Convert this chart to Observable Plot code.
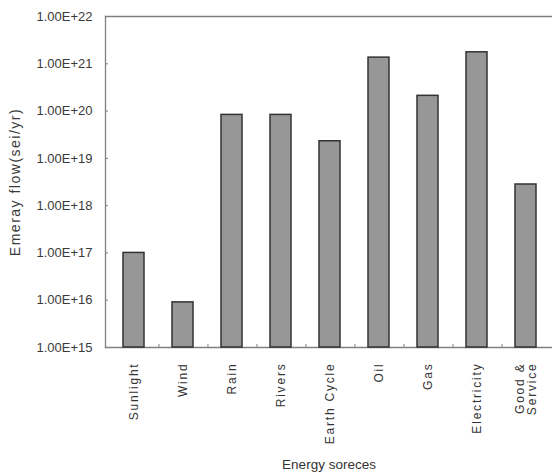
<!DOCTYPE html>
<html>
<head>
<meta charset="utf-8">
<script src="https://cdn.jsdelivr.net/npm/d3@7"></script>
<script src="https://cdn.jsdelivr.net/npm/@observablehq/plot@0.6"></script>
<style>
  html, body { margin: 0; padding: 0; background: #fff; }
  #chart svg { font-family: "Liberation Sans", Arial, sans-serif; }
  #chart g[aria-label="x-axis tick label"] text { letter-spacing: 1.8px; }
  #chart g[aria-label="y-axis label"] text { letter-spacing: 1.5px; font-size: 14px; }
  #chart g[aria-label="x-axis label"] text { font-size: 13.5px; }
</style>
</head>
<body>
<div id="chart"></div>
<script>
const categories = ["Sunlight", "Wind", "Rain", "Rivers", "Earth Cycle", "Oil", "Gas", "Electricity", "Good & Service"];
const tickLabels = ["Sunlight", "Wind", "Rain", "Rivers", "Earth Cycle", "Oil", "Gas", "Electricity", "Good &\nService"];
const values = [1.0e17, 9.0e15, 8.3e19, 8.3e19, 2.3e19, 1.35e21, 2.1e20, 1.75e21, 2.8e18];
const yTicks = [1e15, 1e16, 1e17, 1e18, 1e19, 1e20, 1e21, 1e22];
const yDomain = [1e15, 1e22];

const data = categories.map((c, i) => ({category: c, value: values[i]}));
const labelOf = new Map(categories.map((c, i) => [c, tickLabels[i]]));

const W = 552, H = 473;
const mL = 105, mT = 16, mB = 126, mR = 0;
const xRange = [mL, 554];
const bw = (xRange[1] - xRange[0]) / categories.length;

const chart = Plot.plot({
  width: W,
  height: H,
  marginLeft: mL,
  marginRight: mR,
  marginTop: mT,
  marginBottom: mB,
  style: {fontSize: "12px", color: "#333", background: "#fff", overflow: "visible"},
  x: {domain: categories, range: xRange, paddingInner: 0.58, paddingOuter: 0.29},
  y: {type: "log", domain: yDomain},
  marks: [
    Plot.frame({anchor: "top", stroke: "#808080", strokeWidth: 1.3}),
    Plot.frame({anchor: "bottom", stroke: "#808080", strokeWidth: 1.3}),
    Plot.frame({anchor: "left", stroke: "#808080", strokeWidth: 1.3}),
    Plot.barY(data, {x: "category", y1: () => yDomain[0], y2: "value", fill: "#979797", stroke: "#333", strokeWidth: 1.5}),
    Plot.axisY({ticks: yTicks, tickSize: -3, stroke: "#808080", text: null, label: null}),
    Plot.axisY({ticks: yTicks, tickSize: 0, tickPadding: 13, fontSize: 13, fill: "#3a3a3a",
      tickFormat: d => d.toExponential(2).toUpperCase(),
      label: "Emeray flow(sei/yr)", labelArrow: "none", labelAnchor: "center", labelOffset: 95}),
    Plot.axisX({ticks: categories.slice(0, 8), tickSize: -3, dx: bw / 2, stroke: "#808080", text: null, label: null}),
    Plot.axisX({tickSize: 0, tickPadding: 15, tickRotate: -90, fontSize: 12, fill: "#333",
      tickFormat: d => labelOf.get(d),
      label: "Energy soreces", labelArrow: "none", labelAnchor: "center", labelOffset: 121})
  ]
});
document.getElementById("chart").appendChild(chart);
</script>
</body>
</html>
